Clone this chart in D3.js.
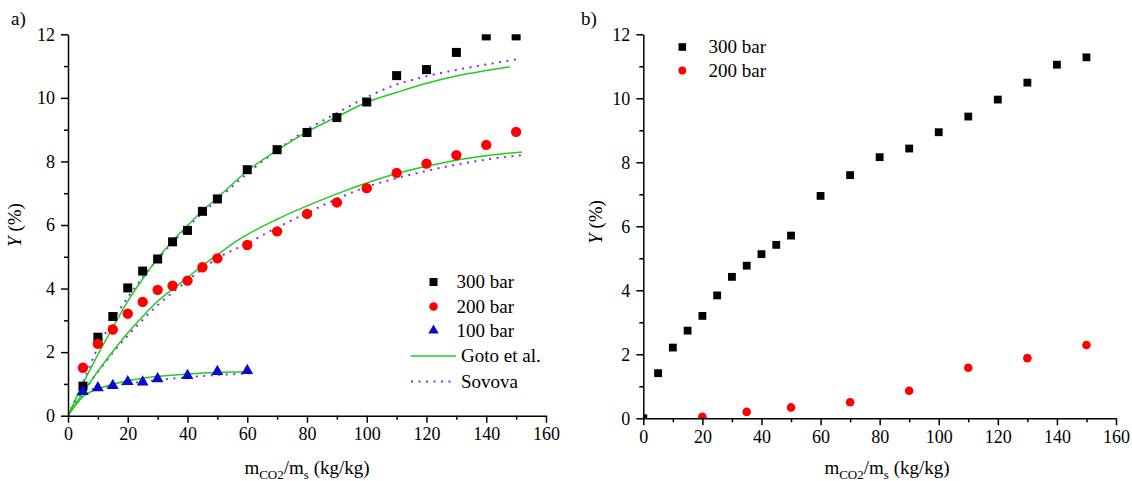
<!DOCTYPE html>
<html>
<head>
<meta charset="utf-8">
<script src="https://cdn.jsdelivr.net/npm/d3@7"></script>
<style>
  body { margin: 0; background: #fff; }
</style>
</head>
<body>
<svg id="chart" width="1132" height="481"></svg>
<script>
// ---- Panel a: measured yields ----
const ratioA = [5,10,15,20,25,30,35,40,45,50,60,70,80,90,100,110,120,130,140,150];
const y300A = [0.93,2.47,3.12,4.02,4.55,4.93,5.47,5.83,6.43,6.82,7.74,8.37,8.91,9.38,9.87,10.70,10.89,11.43,11.95,11.95];
const y200A = [1.51,2.26,2.71,3.21,3.58,3.96,4.09,4.25,4.67,4.95,5.37,5.80,6.35,6.71,7.16,7.64,7.93,8.20,8.52,8.93];
const ratio100A = [5,10,15,20,25,30,40,50,60];
const y100A = [0.76,0.88,0.95,1.07,1.06,1.16,1.26,1.39,1.42];

// ---- Panel a: model curves (Goto et al.) ----
const gotoX300 = [0,5,10,15,20,25,30,35,40,45,50,60,70,80,90,100,110,120,130,140,148];
const goto300  = [0,1.0,1.92,2.78,3.6,4.3,4.95,5.5,5.98,6.45,6.85,7.7,8.35,8.93,9.4,9.86,10.17,10.46,10.69,10.86,10.98];
const gotoX200 = [0,5,10,15,20,25,30,35,40,45,50,57,60,70,80,90,100,110,120,130,140,152];
const goto200  = [0,0.72,1.4,2.02,2.6,3.12,3.6,3.98,4.35,4.72,5.06,5.53,5.7,6.18,6.6,6.98,7.32,7.62,7.85,8.04,8.18,8.3];
const gotoX100 = [0,5,10,15,20,25,30,40,50,60];
const goto100  = [0,0.6,0.84,0.99,1.1,1.18,1.24,1.31,1.36,1.38];

// ---- Panel a: model curves (Sovova) ----
const sovX300 = [0,5,10,15,20,25,30,35,40,50,60,70,80,90,100,110,120,130,140,150];
const sov300  = [0,1.05,2.15,3.0,3.72,4.35,4.92,5.45,5.93,6.8,7.62,8.35,9.0,9.52,10.02,10.42,10.68,10.88,11.05,11.21];
const sovX200 = [0,5,10,15,20,25,30,35,40,45,50,60,70,80,90,100,110,120,130,140,150,152];
const sov200  = [0,0.72,1.38,1.98,2.52,3.02,3.48,3.88,4.25,4.62,4.95,5.42,5.92,6.38,6.82,7.2,7.47,7.7,7.9,8.06,8.18,8.2];
const sovX100 = [0,5,10,15,20,25,30,40,50,60,62];
const sov100  = [0,0.75,0.86,0.94,1.01,1.07,1.12,1.21,1.28,1.33,1.34];

// ---- Panel b: measured yields ----
const ratio300B = [0,5,10,15,20,25,30,35,40,45,50,60,70,80,90,100,110,120,130,140,150];
const y300B = [0,1.41,2.21,2.74,3.20,3.84,4.42,4.77,5.13,5.42,5.71,6.95,7.60,8.16,8.43,8.94,9.43,9.96,10.49,11.05,11.28];
const ratio200B = [20,35,50,70,90,110,130,150];
const y200B = [0.05,0.20,0.34,0.50,0.86,1.58,1.88,2.29];

// ---- Axis ticks and labels ----
const xMajor = [0,20,40,60,80,100,120,140,160];
const xMinor = [10,30,50,70,90,110,130,150];
const yMajor = [0,2,4,6,8,10,12];
const yMinor = [1,3,5,7,9,11];
const legendA = ["300 bar","200 bar","100 bar","Goto et al.","Sovova"];
const legendB = ["300 bar","200 bar"];

const RED = "#ff0000", BLUE = "#0a0acc", GREEN = "#22cc22", PURPLE = "#8a2be2";
const FONT = "'Liberation Serif', 'Times New Roman', Tinos, serif";

const svg = d3.select("#chart");
const zip = (xs, ys) => xs.map((v, i) => [v, ys[i]]);

function panel(id, xr, yr) {
  const x = d3.scaleLinear().domain([0, 160]).range(xr);
  const y = d3.scaleLinear().domain([0, 12]).range(yr);
  const g = svg.append("g");
  svg.append("clipPath").attr("id", id)
    .append("rect").attr("x", xr[0]).attr("y", yr[1])
    .attr("width", xr[1] - xr[0] + 10).attr("height", yr[0] - yr[1]);
  const plot = g.append("g").attr("clip-path", `url(#${id})`);
  return { x, y, g, plot };
}

function axes(p) {
  const { x, y, g } = p;
  const y0 = y(0), x0 = x(0);
  const style = sel => {
    sel.attr("font-family", null).attr("font-size", null);
    sel.selectAll("path,line").attr("stroke", "#000").attr("stroke-width", 1.5);
    sel.selectAll("text").attr("fill", "#000").style("font-size", "18px");
  };
  g.append("g").attr("transform", `translate(0,${y0})`)
    .call(d3.axisBottom(x).tickValues(xMinor).tickSize(4).tickFormat("").tickSizeOuter(0)).call(style)
    .select(".domain").remove();
  g.append("g").attr("transform", `translate(${x0},0)`)
    .call(d3.axisLeft(y).tickValues(yMinor).tickSize(4).tickFormat("").tickSizeOuter(0)).call(style)
    .select(".domain").remove();
  g.append("g").attr("transform", `translate(0,${y0})`)
    .call(d3.axisBottom(x).tickValues(xMajor).tickSize(7).tickPadding(5).tickSizeOuter(0)).call(style);
  g.append("g").attr("transform", `translate(${x0},0)`)
    .call(d3.axisLeft(y).tickValues(yMajor).tickSize(7).tickPadding(6).tickSizeOuter(0)).call(style);
}

function xTitle(cx, by) {
  const t = svg.append("text").attr("x", cx).attr("y", by).attr("text-anchor", "middle")
    .style("font-size", "19px").attr("fill", "#000");
  t.append("tspan").text("m");
  t.append("tspan").style("font-size", "13px").attr("dy", 5).text("CO2");
  t.append("tspan").attr("dy", -5).text("/m");
  t.append("tspan").style("font-size", "13px").attr("dy", 5).text("s");
  t.append("tspan").attr("dy", -5).text(" (kg/kg)");
}

function yTitle(cx, cy) {
  const t = svg.append("text").attr("transform", `translate(${cx},${cy}) rotate(-90)`)
    .attr("text-anchor", "middle").style("font-size", "19px").attr("fill", "#000");
  t.append("tspan").style("font-style", "italic").text("Y");
  t.append("tspan").text(" (%)");
}

function squares(sel, pts, p, s) {
  sel.selectAll(null).data(pts).join("rect")
    .attr("x", d => p.x(d[0]) - s / 2).attr("y", d => p.y(d[1]) - s / 2)
    .attr("width", s).attr("height", s).attr("fill", "#000");
}
function circles(sel, pts, p, r) {
  sel.selectAll(null).data(pts).join("circle")
    .attr("cx", d => p.x(d[0])).attr("cy", d => p.y(d[1])).attr("r", r).attr("fill", RED);
}
function triangles(sel, pts, p, size) {
  const sym = d3.symbol().type(d3.symbolTriangle).size(size);
  sel.selectAll(null).data(pts).join("path")
    .attr("d", sym).attr("transform", d => `translate(${p.x(d[0])},${p.y(d[1])})`).attr("fill", BLUE);
}
function curve(sel, pts, p, color, dash) {
  const line = d3.line().x(d => p.x(d[0])).y(d => p.y(d[1])).curve(d3.curveMonotoneX);
  const path = sel.append("path").datum(pts).attr("d", line).attr("fill", "none")
    .attr("stroke", color).attr("stroke-width", dash ? 2 : 1.5);
  if (dash) path.attr("stroke-dasharray", dash).attr("stroke-linecap", "butt");
}

// ---------- Panel a ----------
const A = panel("clipA", [68, 546], [415.7, 34.3]);
curve(A.plot, zip(sovX300, sov300), A, PURPLE, "2,5.5");
curve(A.plot, zip(sovX200, sov200), A, PURPLE, "2,5.5");
curve(A.plot, zip(sovX100, sov100), A, PURPLE, "2,5.5");
curve(A.plot, zip(gotoX300, goto300), A, GREEN);
curve(A.plot, zip(gotoX200, goto200), A, GREEN);
curve(A.plot, zip(gotoX100, goto100), A, GREEN);
squares(A.plot, zip(ratioA, y300A), A, 9);
circles(A.plot, zip(ratioA, y200A), A, 5.2);
triangles(A.plot, zip(ratio100A, y100A), A, 60);
axes(A);
xTitle(307, 474);
yTitle(21, 225);
svg.append("text").attr("x", 11).attr("y", 25).style("font-size", "19px").text("a)");

// Legend a
const legA = svg.append("g");
const ly = [282, 306.5, 330.5, 356, 381.5];
legA.append("rect").attr("x", 429.5).attr("y", ly[0] - 4).attr("width", 8).attr("height", 8).attr("fill", "#000");
legA.append("circle").attr("cx", 433.5).attr("cy", ly[1]).attr("r", 4.3).attr("fill", RED);
legA.append("path").attr("d", d3.symbol().type(d3.symbolTriangle).size(48)())
  .attr("transform", `translate(433.5,${ly[2]})`).attr("fill", BLUE);
legA.append("line").attr("x1", 410.5).attr("x2", 456).attr("y1", ly[3]).attr("y2", ly[3])
  .attr("stroke", GREEN).attr("stroke-width", 1.5);
legA.append("line").attr("x1", 411).attr("x2", 455).attr("y1", ly[4]).attr("y2", ly[4])
  .attr("stroke", PURPLE).attr("stroke-width", 2).attr("stroke-dasharray", "2,5.5");
legendA.forEach((s, i) => {
  legA.append("text").attr("x", i < 3 ? 456.5 : 461).attr("y", ly[i]).attr("dy", "0.33em")
    .style("font-size", "19px").text(s);
});

// ---------- Panel b ----------
const B = panel("clipB", [643.3, 1116], [418.3, 34.3]);
squares(B.plot, zip(ratio300B, y300B), B, 7.8);
circles(B.plot, zip(ratio200B, y200B), B, 4.3);
axes(B);
xTitle(887, 474);
yTitle(602, 222);
svg.append("text").attr("x", 581).attr("y", 25).style("font-size", "19px").text("b)");

// Legend b
const legB = svg.append("g");
const lyb = [47, 70.5];
legB.append("rect").attr("x", 678.5).attr("y", lyb[0] - 3.8).attr("width", 7.6).attr("height", 7.6).attr("fill", "#000");
legB.append("circle").attr("cx", 682.3).attr("cy", lyb[1]).attr("r", 3.9).attr("fill", RED);
legendB.forEach((s, i) => {
  legB.append("text").attr("x", 708.5).attr("y", lyb[i]).attr("dy", "0.33em")
    .style("font-size", "19px").text(s);
});

// Serif face for every label
svg.selectAll("text").style("font-family", FONT);
</script>
</body>
</html>
